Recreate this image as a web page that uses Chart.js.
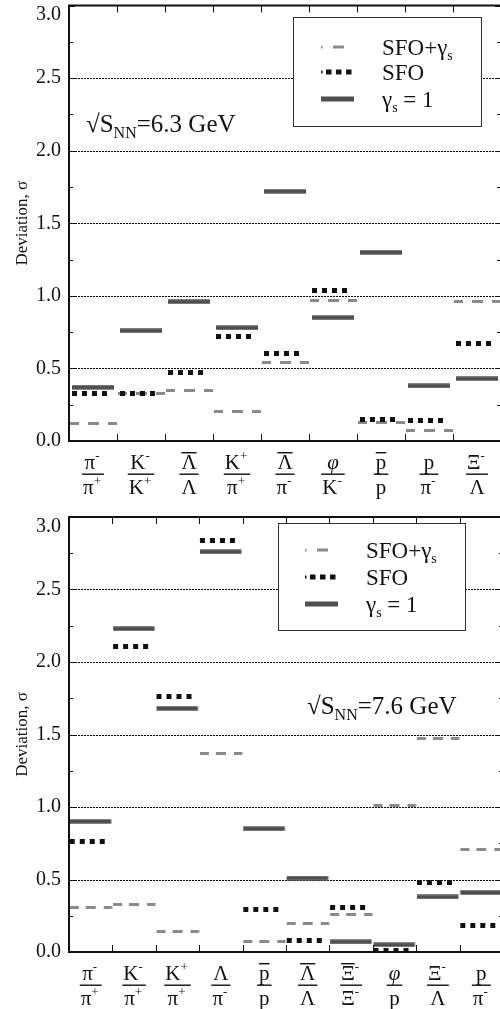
<!DOCTYPE html>
<html><head><meta charset="utf-8">
<script src="https://cdn.jsdelivr.net/npm/chart.js@4.4.1/dist/chart.umd.min.js"></script>
<style>
html,body{margin:0;padding:0;overflow:hidden;background:#fff;width:500px;height:1009px;position:relative}
canvas{position:absolute;left:0}
#c1{top:0}
#c2{top:500px}
</style>
</head><body>
<canvas id="c1" width="506" height="500"></canvas>
<canvas id="c2" width="506" height="509"></canvas>
<script>
// ---------------- data ----------------
const seriesNames = ['SFO+γ_{s}', 'SFO', 'γ_{s} = 1'];
const yTicks = [0, 0.5, 1.0, 1.5, 2.0, 2.5, 3.0];
const yTitle = 'Deviation, σ';
const energies = ['6.3', '7.6'];

// "!" = overline on the particle, "^{}" = superscript charge
const labels63 = ['π^{-}/π^{+}', 'K^{-}/K^{+}', '!Λ/Λ', 'K^{+}/π^{+}', '!Λ/π^{-}', 'φ/K^{-}', '!p/p', 'p/π^{-}', 'Ξ^{-}/Λ'];
const sfoGs63 = [0.12, 0.33, 0.35, 0.20, 0.54, 0.97, 0.13, 0.07, 0.96];
const sfo63   = [0.33, 0.33, 0.47, 0.72, 0.60, 1.04, 0.15, 0.14, 0.67];
const gs1_63  = [0.37, 0.76, 0.96, 0.78, 1.72, 0.85, 1.30, 0.38, 0.43];

const labels76 = ['π^{-}/π^{+}', 'K^{-}/π^{+}', 'K^{+}/π^{+}', 'Λ/π^{-}', '!p/p', '!Λ/Λ', '!Ξ^{-}/Ξ^{-}', 'φ/p', 'Ξ^{-}/Λ', 'p/π^{-}'];
const sfoGs76 = [0.31, 0.33, 0.14, 1.37, 0.07, 0.20, 0.26, 1.01, 1.47, 0.71];
const sfo76   = [0.76, 2.11, 1.76, 2.84, 0.29, 0.08, 0.31, 0.01, 0.48, 0.18];
const gs1_76  = [0.90, 2.23, 1.68, 2.76, 0.85, 0.51, 0.07, 0.05, 0.38, 0.41];

// ---------------- helpers ----------------
const FONT = "'Liberation Serif','Times New Roman',serif";
const INK = '#111';
const SOLID = '#4f4f4f';
const DASHC = '#8a8a8a';

function parseRich(s) {
  const out = []; const re = /_\{([^}]*)\}|\^\{([^}]*)\}/g; let last = 0, m;
  while ((m = re.exec(s))) {
    if (m.index > last) out.push({t: s.slice(last, m.index)});
    if (m[1] !== undefined) out.push({t: m[1], sub: true}); else out.push({t: m[2], sup: true});
    last = re.lastIndex;
  }
  if (last < s.length) out.push({t: s.slice(last)});
  return out;
}
function segFont(seg, size) {
  const sz = (seg.sub || seg.sup) ? Math.round(size * 0.62) : size;
  const it = /φ/.test(seg.t) ? 'italic ' : '';
  return it + sz + 'px ' + FONT;
}
function richWidth(ctx, segs, size) {
  let w = 0; segs.forEach(s => { ctx.font = segFont(s, size); w += ctx.measureText(s.t).width; }); return w;
}
function drawRich(ctx, segs, x, y, size) { // y = alphabetic baseline, left aligned
  ctx.textBaseline = 'alphabetic'; ctx.textAlign = 'left';
  const pos = [];
  segs.forEach(s => {
    ctx.font = segFont(s, size);
    let dy = 0; if (s.sub) dy = size * 0.25; if (s.sup) dy = -size * 0.45;
    ctx.fillText(s.t, x, y + dy);
    const w = ctx.measureText(s.t).width; pos.push([x, w]); x += w;
  });
  return pos;
}

function mkCanvas(w, h) { const c = document.createElement('canvas'); c.width = Math.ceil(w); c.height = h; return c; }
function mkSolid(cw, x0, x1) {
  const c = mkCanvas(cw, 5); const g = c.getContext('2d'); g.fillStyle = SOLID; g.fillRect(x0, 0.3, x1 - x0, 4.4); return c;
}
function mkSquares(cw, start) {
  const c = mkCanvas(cw, 5); const g = c.getContext('2d'); g.fillStyle = INK;
  for (let k = 0; k < 4; k++) g.fillRect(start + k * 10, 0, 5, 5);
  return c;
}
function mkDashes(cw, segs) {
  const c = mkCanvas(cw, 3); const g = c.getContext('2d'); g.fillStyle = DASHC;
  segs.forEach(([a, b]) => g.fillRect(a, 0, b - a, 3));
  return c;
}

function legendSym(ctx, kind, x, y) {
  if (kind === 0) { ctx.fillStyle = DASHC; ctx.fillRect(x, y - 1, 1.5, 2.5); ctx.fillRect(x + 12, y - 1.5, 11, 3); }
  else if (kind === 1) { ctx.fillStyle = INK; ctx.fillRect(x, y - 1.5, 1.5, 3); for (let k = 0; k < 3; k++) ctx.fillRect(x + 5 + k * 10, y - 2.5, 5.5, 5); }
  else { ctx.fillStyle = SOLID; ctx.fillRect(x, y - 2.5, 33, 5); }
}

function deco(cfg) {
  return {
    id: 'deco',
    beforeDatasetsDraw(chart) {
      const {ctx, chartArea: a, scales: {x, y}} = chart;
      ctx.save();
      // dotted grid lines
      ctx.strokeStyle = '#000'; ctx.lineWidth = 1; ctx.setLineDash([2, 1]);
      yTicks.forEach(v => {
        if (v <= 0 || v >= 3) return;
        const py = Math.round(y.getPixelForValue(v)) + 0.5;
        ctx.beginPath(); ctx.moveTo(a.left, py); ctx.lineTo(a.right, py); ctx.stroke();
      });
      ctx.restore();
    },
    afterDatasetsDraw(chart) {
      const {ctx, chartArea: a, scales: {x, y}} = chart;
      ctx.save();
      // axes frame
      ctx.strokeStyle = INK; ctx.lineWidth = 2; ctx.setLineDash([]);
      ctx.strokeRect(a.left, a.top, a.right - a.left, a.bottom - a.top);
      // y ticks (inward), major and minor
      ctx.lineWidth = 1;
      for (let i = 0; i < yTicks.length; i++) {
        const vals = [yTicks[i]]; if (i < yTicks.length - 1) vals.push((yTicks[i] + yTicks[i + 1]) / 2);
        vals.forEach((v, j) => {
          const py = Math.round(y.getPixelForValue(v)) + 0.5; const len = j === 0 ? 6 : 4;
          ctx.beginPath(); ctx.moveTo(a.left, py); ctx.lineTo(a.left + len, py);
          ctx.moveTo(a.right, py); ctx.lineTo(a.right - len, py); ctx.stroke();
        });
      }
      // x ticks at category boundaries (inward, top and bottom)
      const n = chart.data.labels.length;
      for (let i = 1; i < n; i++) {
        const px = Math.round((x.getPixelForValue(i - 1) + x.getPixelForValue(i)) / 2) + 0.5;
        ctx.beginPath(); ctx.moveTo(px, a.bottom); ctx.lineTo(px, a.bottom - 7);
        ctx.moveTo(px, a.top); ctx.lineTo(px, a.top + 7); ctx.stroke();
      }
      // y tick labels
      ctx.fillStyle = INK; ctx.font = '20px ' + FONT; ctx.textAlign = 'right'; ctx.textBaseline = 'middle';
      yTicks.forEach(v => {
        const py = Math.max(y.getPixelForValue(v), a.top + 9.5);
        ctx.fillText(v.toFixed(1), a.left - 8, py);
      });
      // x labels as fractions
      const lab = chart.data.labels;
      lab.forEach((s, i) => {
        const cx = x.getPixelForValue(i);
        const parts = s.split('/').map(p => { let over = false; if (p[0] === '!') { over = true; p = p.slice(1); } return {over, segs: parseRich(p)}; });
        const size = 21;
        const widths = parts.map(p => richWidth(ctx, p.segs, size));
        const base = [a.bottom + 28, a.bottom + 53];
        ctx.fillStyle = INK;
        parts.forEach((p, k) => {
          const x0 = cx - widths[k] / 2 - (p.segs.length > 1 ? 1 : 0);
          const pos = drawRich(ctx, p.segs, x0, base[k], size);
          if (p.over) {
            ctx.fillRect(pos[0][0], base[k] - 17, pos[0][1], 1.4);
          }
        });
        const lw = Math.max(widths[0], widths[1]) + 4;
        ctx.fillRect(cx - lw / 2, a.bottom + 32.5, lw, 1.4);
      });
      // legend box
      const L = cfg.legend;
      ctx.fillStyle = '#fff'; ctx.fillRect(L.x0, L.y0, L.x1 - L.x0, L.y1 - L.y0);
      ctx.strokeStyle = '#333'; ctx.lineWidth = 1; ctx.strokeRect(L.x0 + 0.5, L.y0 + 0.5, L.x1 - L.x0, L.y1 - L.y0);
      chart.data.datasets.forEach((ds, k) => {
        legendSym(ctx, k, L.symX, L.rows[k]);
        ctx.fillStyle = INK;
        drawRich(ctx, parseRich(ds.label), L.textX, L.rows[k] + 7.5, 23);
      });
      // energy annotation
      ctx.fillStyle = INK;
      drawRich(ctx, parseRich('√S_{NN}=' + cfg.energy + ' GeV'), cfg.annot.x, cfg.annot.y + 8.5, 25);
      ctx.restore();
    }
  };
}

function makeChart(id, labels, gsData, sfoData, g1Data, cfg) {
  const cv = document.getElementById(id);
  const W = cv.width, H = cv.height;
  const cw = (cfg.right - 69) / labels.length;
  const imgDash = mkDashes(cw, cfg.dashSegs);
  const imgSq = mkSquares(cw, cfg.sqStart);
  const imgSolid = mkSolid(cw, cfg.solid[0], cfg.solid[1]);
  const common = {showLine: false, pointRadius: 3, pointHoverRadius: 3, pointBorderWidth: 0, clip: false};
  return new Chart(cv, {
    type: 'line',
    data: {
      labels: labels,
      datasets: [
        Object.assign({label: seriesNames[0], data: gsData, pointStyle: imgDash, order: 3}, common),
        Object.assign({label: seriesNames[1], data: sfoData, pointStyle: imgSq, order: 1}, common),
        Object.assign({label: seriesNames[2], data: g1Data, pointStyle: imgSolid, order: 2}, common)
      ]
    },
    options: {
      responsive: false, animation: false, events: [],
      layout: {padding: {left: 0, top: cfg.top, right: W - cfg.right, bottom: 0}},
      plugins: {legend: {display: false}, tooltip: {enabled: false}},
      scales: {
        x: {type: 'category', offset: true, grid: {display: false}, border: {display: false},
            ticks: {display: false}, afterFit: s => { s.height = H - cfg.bottom; }},
        y: {min: 0, max: 3, grid: {display: false}, border: {display: false},
            ticks: {display: false, stepSize: 0.5},
            title: {display: true, text: yTitle, color: INK, font: {family: FONT, size: 17}, padding: {top: 12, bottom: 0}},
            afterFit: s => { s.width = 69; }}
      }
    },
    plugins: [deco(cfg)]
  });
}

makeChart('c1', labels63, sfoGs63, sfo63, gs1_63, {
  top: 5.5, bottom: 441, right: 501, energy: energies[0],
  dashSegs: [[1, 10], [19, 30], [39, 48]], sqStart: 3, solid: [3, 45],
  legend: {x0: 293, y0: 17, x1: 481, y1: 126, symX: 321, textX: 382, rows: [47, 72, 99]},
  annot: {x: 86, y: 123}
});
makeChart('c2', labels76, sfoGs76, sfo76, gs1_76, {
  top: 17, bottom: 452, right: 503, energy: energies[1],
  dashSegs: [[1, 10], [17, 27], [35, 43.4]], sqStart: 1, solid: [1, 42.5],
  legend: {x0: 278, y0: 23, x1: 465, y1: 130, symX: 305, textX: 366, rows: [50, 77, 104]},
  annot: {x: 307, y: 205}
});
</script>
</body></html>
